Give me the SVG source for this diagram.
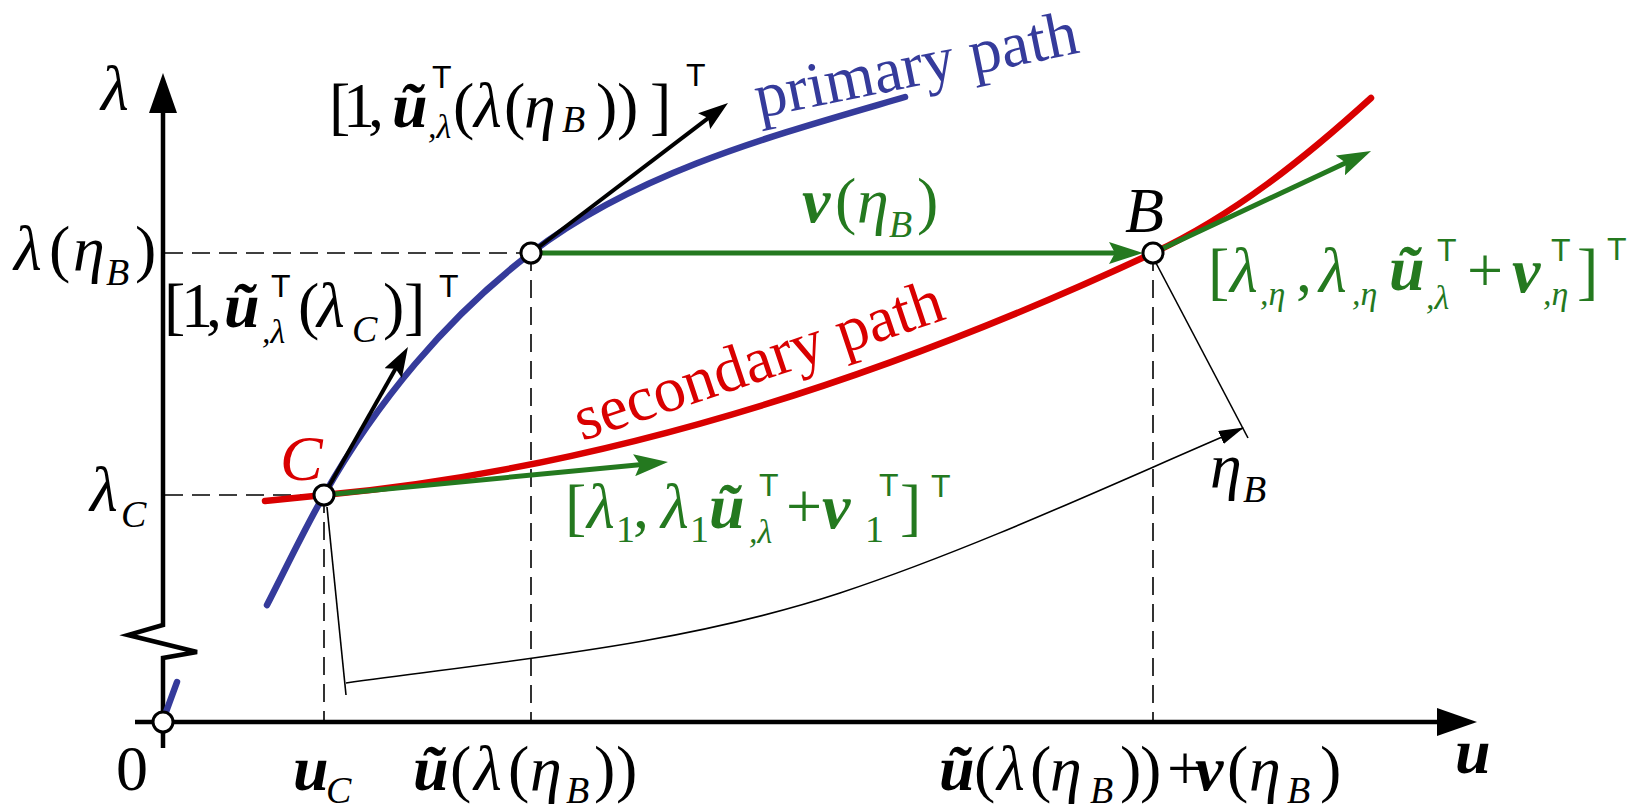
<svg xmlns="http://www.w3.org/2000/svg" width="1635" height="806" viewBox="0 0 1635 806">
<style>
text{font-size:64px}
.it{font-style:italic}
.bi{font-style:italic;font-weight:bold}
.sb{font-size:38px}
.sc{font-size:34px}
.sup{font-size:32px;font-style:normal;font-weight:normal}
.grn{fill:#24791f}
.red{fill:#d90000}
.blu{fill:#353b9b}
.dash{fill:none;stroke:#000;stroke-width:1.6;stroke-dasharray:18 9}
.thin{fill:none;stroke:#000;stroke-width:1.6}
.axis{fill:none;stroke:#000;stroke-width:4.5;stroke-linejoin:miter}
.pt{fill:#fff;stroke:#000;stroke-width:3}
.curveB{fill:none;stroke:#353b9b;stroke-width:6.5;stroke-linecap:round}
.curveR{fill:none;stroke:#d90000;stroke-width:6.5;stroke-linecap:round}
.arrK{fill:none;stroke:#000;stroke-width:4}
.arrG{fill:none;stroke:#24791f;stroke-width:5}
</style>
<defs>
<marker id="ahAx" markerUnits="userSpaceOnUse" markerWidth="40" markerHeight="28" viewBox="0 0 40 28" refX="10" refY="14" orient="auto"><path d="M0,0 L40,14 L0,28 z" fill="#000"/></marker>
<marker id="ahK" markerUnits="userSpaceOnUse" markerWidth="30" markerHeight="20" viewBox="0 0 30 20" refX="8" refY="10" orient="auto"><path d="M0,0 L30,10 L0,20 L5,10 z" fill="#000"/></marker>
<marker id="ahG" markerUnits="userSpaceOnUse" markerWidth="34" markerHeight="22" viewBox="0 0 34 22" refX="8" refY="11" orient="auto"><path d="M0,0 L34,11 L0,22 L6,11 z" fill="#24791f"/></marker>
<marker id="ahT" markerUnits="userSpaceOnUse" markerWidth="25" markerHeight="14" viewBox="0 0 25 14" refX="24" refY="7" orient="auto"><path d="M0,0 L25,7 L0,14 z" fill="#000"/></marker>
</defs>

<g id="connectors">
<path class="dash" d="M165,253 L531,253"/>
<path class="dash" d="M165,495 L324,495"/>
<path class="dash" d="M324,495 L324,720"/>
<path class="dash" d="M531,253 L531,720"/>
<path class="dash" d="M1153,253 L1153,720"/>
<path class="thin" d="M327,507 L346,695"/>
<path class="thin" d="M1156,263 L1248,438"/>
<path class="thin" d="M346,683 C511,660 682,645 840,593 C978,547 1110,485 1243,428" marker-end="url(#ahT)"/>
</g>

<g id="axes">
<path class="axis" d="M163,748 L163,658 L197,652 L128,635 L163,625 L163,103" marker-end="url(#ahAx)"/>
<path class="axis" d="M135,722 L1447,722" marker-end="url(#ahAx)"/>
</g>

<g id="primary-path">
<path class="curveB" d="M166,712 L177,682"/>
<path class="curveB" d="M267,605 C285,570 305,528 324,495 C376,403 447,317 531,253 C638,171 775,135 905,97"/>
</g>

<g id="secondary-path">
<path class="curveR" d="M265,501 C285,499 305,497 324,495 C611,468 892,375 1153,253 C1234,215 1305,158 1371,98"/>
</g>

<g id="tangents">
<path class="arrK" d="M324,495 L397.1,366.1" marker-end="url(#ahK)"/>
<path class="arrK" d="M531,253 L710.5,116.3" marker-end="url(#ahK)"/>
<path class="arrG" d="M531,253 L1117,253" marker-end="url(#ahG)"/>
<path class="arrG" d="M324,495 L642.1,464.5" marker-end="url(#ahG)"/>
<path class="arrG" d="M1153,253 L1347.5,162" marker-end="url(#ahG)"/>
</g>

<g id="point-origin"><circle class="pt" cx="163" cy="722" r="10"/></g>
<g id="point-A"><circle class="pt" cx="531" cy="253" r="10"/></g>
<g id="point-B"><circle class="pt" cx="1153" cy="253" r="10"/></g>
<g id="point-C"><circle class="pt" cx="324" cy="495" r="10" stroke="#d90000"/></g>

<g id="labels" font-family="Liberation Serif, serif">
<text class="it" x="101" y="110">λ</text>
<text y="270"><tspan class="it" x="14">λ</tspan><tspan x="49">(</tspan><tspan class="it" x="73">η</tspan><tspan class="it sb" x="106" y="285">B</tspan><tspan x="135" y="270">)</tspan></text>
<text y="511"><tspan class="it" x="90">λ</tspan><tspan class="it sb" x="121" y="527">C</tspan></text>

<text y="127"><tspan x="329">[</tspan><tspan x="343">1</tspan><tspan x="368">,</tspan><tspan class="bi" x="392">ũ</tspan><tspan class="sup" font-family="Liberation Sans, sans-serif" x="432" y="88">T</tspan><tspan class="sc it" x="428" y="138">,λ</tspan><tspan x="453" y="127">(</tspan><tspan class="it" x="474">λ</tspan><tspan x="504">(</tspan><tspan class="it" x="524">η</tspan><tspan class="it sb" x="562" y="132">B</tspan><tspan x="596" y="127">)</tspan><tspan x="617">)</tspan><tspan x="650">]</tspan><tspan class="sup" font-family="Liberation Sans, sans-serif" x="686" y="86">T</tspan></text>

<text y="327"><tspan x="164">[</tspan><tspan x="181">1</tspan><tspan x="206">,</tspan><tspan class="bi" x="224">ũ</tspan><tspan class="sup" font-family="Liberation Sans, sans-serif" x="271" y="297">T</tspan><tspan class="sc it" x="262" y="343">,λ</tspan><tspan x="298" y="327">(</tspan><tspan class="it" x="317">λ</tspan><tspan class="it sb" x="352" y="342">C</tspan><tspan x="383" y="327">)</tspan><tspan x="404">]</tspan><tspan class="sup" font-family="Liberation Sans, sans-serif" x="439" y="297">T</tspan></text>

<text class="grn" y="222"><tspan class="bi" x="802">v</tspan><tspan x="835">(</tspan><tspan class="it" x="857">η</tspan><tspan class="it sb" x="889" y="237">B</tspan><tspan x="917" y="222">)</tspan></text>

<text class="grn" y="528"><tspan x="565">[</tspan><tspan class="it" x="587">λ</tspan><tspan class="sb" x="616" y="542">1</tspan><tspan x="633" y="528">,</tspan><tspan class="it" x="661">λ</tspan><tspan class="sb" x="690" y="542">1</tspan><tspan class="bi" x="709" y="528">ũ</tspan><tspan class="sup" font-family="Liberation Sans, sans-serif" x="759" y="496">T</tspan><tspan class="sc it" x="749" y="543">,λ</tspan><tspan x="786" y="528">+</tspan><tspan class="bi" x="822">v</tspan><tspan class="sup" font-family="Liberation Sans, sans-serif" x="879" y="496">T</tspan><tspan class="sb" x="865" y="542">1</tspan><tspan x="900" y="528">]</tspan><tspan class="sup" font-family="Liberation Sans, sans-serif" x="931" y="497">T</tspan></text>

<text class="grn" y="292"><tspan x="1208">[</tspan><tspan class="it" x="1230">λ</tspan><tspan class="sc it" x="1260" y="305">,η</tspan><tspan x="1296" y="292">,</tspan><tspan class="it" x="1319">λ</tspan><tspan class="sc it" x="1352" y="305">,η</tspan><tspan class="bi" x="1389" y="290">ũ</tspan><tspan class="sup" font-family="Liberation Sans, sans-serif" x="1437" y="261">T</tspan><tspan class="sc it" x="1426" y="309">,λ</tspan><tspan x="1467" y="292">+</tspan><tspan class="bi" x="1512">v</tspan><tspan class="sup" font-family="Liberation Sans, sans-serif" x="1551" y="261">T</tspan><tspan class="sc it" x="1543" y="305">,η</tspan><tspan x="1577" y="292">]</tspan><tspan class="sup" font-family="Liberation Sans, sans-serif" x="1607" y="260">T</tspan></text>

<text class="it red" x="280" y="480">C</text>
<text class="it" x="1125" y="232">B</text>
<text y="487"><tspan class="it" x="1210">η</tspan><tspan class="it sb" x="1243" y="502">B</tspan></text>

<text x="116" y="790">0</text>
<text y="790"><tspan class="bi" x="293">u</tspan><tspan class="it sb" x="326" y="803">C</tspan></text>
<text y="790"><tspan class="bi" x="413">ũ</tspan><tspan x="450">(</tspan><tspan class="it" x="474">λ</tspan><tspan x="508">(</tspan><tspan class="it" x="530">η</tspan><tspan class="it sb" x="566" y="803">B</tspan><tspan x="594" y="790">)</tspan><tspan x="616">)</tspan></text>
<text y="790"><tspan class="bi" x="939">ũ</tspan><tspan x="974">(</tspan><tspan class="it" x="997">λ</tspan><tspan x="1030">(</tspan><tspan class="it" x="1050">η</tspan><tspan class="it sb" x="1090" y="803">B</tspan><tspan x="1120" y="790">)</tspan><tspan x="1140">)</tspan><tspan x="1167">+</tspan><tspan class="bi" x="1195">v</tspan><tspan x="1227">(</tspan><tspan class="it" x="1249">η</tspan><tspan class="it sb" x="1287" y="803">B</tspan><tspan x="1320" y="790">)</tspan></text>
<text class="bi" x="1455" y="773">u</text>

<text class="blu" x="759" y="118" transform="rotate(-11.5 759 118)" font-size="68">primary path</text>
<text class="red" x="582" y="441" transform="rotate(-18.5 582 441)" font-size="68">secondary path</text>
</g>
</svg>
